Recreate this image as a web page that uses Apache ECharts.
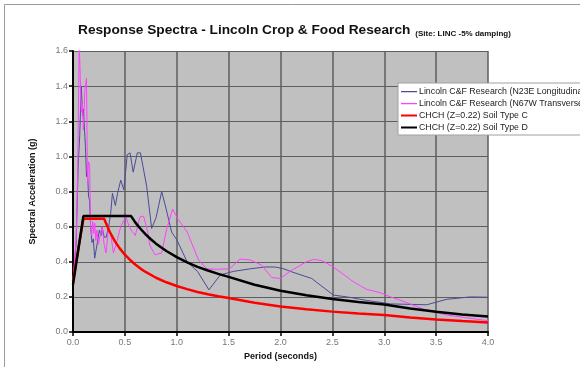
<!DOCTYPE html>
<html>
<head>
<meta charset="utf-8">
<script src="https://cdn.jsdelivr.net/npm/echarts@6/dist/echarts.min.js"></script>
<style>
  html, body { margin: 0; padding: 0; background: #fff; }
  #chart { width: 580px; height: 367px; }
</style>
</head>
<body>
<div id="chart"></div>
<script>
// tick labels
const periodTicks = [0, 0.5, 1.0, 1.5, 2.0, 2.5, 3.0, 3.5, 4.0];
const accelTicks = [0, 0.2, 0.4, 0.6, 0.8, 1.0, 1.2, 1.4, 1.6];

const seriesNames = [
  "Lincoln C&F Research (N23E Longitudinal)",
  "Lincoln C&F Research (N67W Transverse)",
  "CHCH (Z=0.22) Soil Type C",
  "CHCH (Z=0.22) Soil Type D"
];

// N23E record
const periodN23E = [0, 0.03, 0.05, 0.065, 0.08, 0.093, 0.10, 0.12, 0.13, 0.14, 0.15, 0.16, 0.17, 0.183, 0.196, 0.209, 0.22, 0.235, 0.254, 0.27, 0.28, 0.30, 0.32, 0.344, 0.363, 0.38, 0.408, 0.43, 0.46, 0.49, 0.523, 0.55, 0.58, 0.62, 0.65, 0.71, 0.758, 0.80, 0.855, 0.90, 0.95, 1.0, 1.10, 1.20, 1.31, 1.42, 1.545, 1.71, 1.85, 1.95, 2.03, 2.12, 2.30, 2.51, 2.64, 2.83, 3.06, 3.41, 3.6, 3.83, 4.0];
const accelN23E = [0.29, 0.5, 0.95, 1.12, 1.40, 1.23, 1.27, 1.055, 0.885, 0.91, 0.77, 0.75, 0.60, 0.51, 0.53, 0.42, 0.43, 0.51, 0.58, 0.55, 0.60, 0.54, 0.54, 0.60, 0.675, 0.79, 0.72, 0.79, 0.865, 0.81, 1.01, 1.02, 0.91, 1.02, 1.02, 0.83, 0.59, 0.65, 0.80, 0.695, 0.57, 0.525, 0.40, 0.345, 0.24, 0.325, 0.345, 0.36, 0.37, 0.37, 0.36, 0.34, 0.305, 0.21, 0.20, 0.18, 0.16, 0.155, 0.186, 0.20, 0.198];

// N67W record
const periodN67W = [0, 0.03, 0.045, 0.06, 0.07, 0.08, 0.09, 0.10, 0.115, 0.13, 0.14, 0.15, 0.16, 0.17, 0.18, 0.19, 0.20, 0.21, 0.22, 0.23, 0.245, 0.26, 0.28, 0.30, 0.318, 0.344, 0.37, 0.39, 0.425, 0.46, 0.485, 0.51, 0.53, 0.56, 0.60, 0.646, 0.68, 0.72, 0.74, 0.79, 0.855, 0.90, 0.96, 1.015, 1.10, 1.21, 1.29, 1.385, 1.51, 1.61, 1.71, 1.82, 1.915, 2.0, 2.09, 2.25, 2.32, 2.40, 2.51, 2.70, 2.83, 2.96, 3.06, 3.15, 3.38, 3.6, 3.83, 4.0];
const accelN67W = [0.29, 0.53, 0.9, 1.65, 1.45, 1.25, 1.3, 1.15, 1.38, 1.445, 0.85, 0.97, 0.95, 0.6, 0.55, 0.63, 0.56, 0.62, 0.52, 0.58, 0.5, 0.51, 0.6, 0.5, 0.45, 0.6, 0.53, 0.45, 0.52, 0.60, 0.63, 0.655, 0.62, 0.58, 0.55, 0.655, 0.66, 0.57, 0.495, 0.44, 0.45, 0.58, 0.70, 0.64, 0.57, 0.41, 0.36, 0.357, 0.36, 0.415, 0.41, 0.38, 0.31, 0.305, 0.345, 0.40, 0.414, 0.406, 0.37, 0.287, 0.243, 0.224, 0.20, 0.182, 0.13, 0.097, 0.078, 0.064];

// design spectra
const periodSoilC = [0, 0.1, 0.3, 0.35, 0.4, 0.45, 0.5, 0.55, 0.6, 0.65, 0.7, 0.8, 0.9, 1.0, 1.1, 1.2, 1.3, 1.4, 1.5, 1.75, 2.0, 2.25, 2.5, 2.75, 3.0, 3.25, 3.5, 3.75, 4.0];
const accelSoilC = [0.29, 0.645, 0.645, 0.575, 0.52, 0.476, 0.44, 0.41, 0.384, 0.361, 0.342, 0.309, 0.283, 0.262, 0.244, 0.228, 0.215, 0.203, 0.193, 0.166, 0.145, 0.129, 0.116, 0.106, 0.097, 0.0825, 0.071, 0.062, 0.054];

const periodSoilD = [0, 0.1, 0.56, 0.6, 0.65, 0.7, 0.75, 0.8, 0.9, 1.0, 1.1, 1.2, 1.3, 1.4, 1.5, 1.75, 2.0, 2.25, 2.5, 2.75, 3.0, 3.25, 3.5, 3.75, 4.0];
const accelSoilD = [0.27, 0.66, 0.66, 0.624, 0.588, 0.556, 0.528, 0.503, 0.461, 0.426, 0.396, 0.371, 0.35, 0.331, 0.314, 0.269, 0.235, 0.209, 0.188, 0.171, 0.157, 0.134, 0.115, 0.1, 0.088];

const zip = (xs, ys) => xs.map((x, i) => [x, ys[i]]);

// legend swatches: plain line segments (tiny corner dots keep the box size)
const thinIcon = "path://M0 0h0.05v0.05h-0.05z M0 4.4h20v1.5h-20z M19.95 9.95h0.05v0.05h-0.05z";
const thickIcon = "path://M0 0h0.05v0.05h-0.05z M0 3.6h20v2.8h-20z M19.95 9.95h0.05v0.05h-0.05z";

const chart = echarts.init(document.getElementById("chart"));

const option = {
  animation: false,
  backgroundColor: "#ffffff",
  textStyle: { fontFamily: "Liberation Sans, Arial, sans-serif" },
  graphic: [
    {
      // outer frame of the chart sheet
      type: "rect",
      shape: { x: 4.5, y: 4.5, width: 600, height: 400 },
      style: { fill: "none", stroke: "#9a9a9a", lineWidth: 1 },
      silent: true
    }
  ],
  title: {
    left: 73,
    top: 16,
    text: "{a|Response Spectra - Lincoln Crop & Food Research} {b|(Site: LINC -5% damping)}",
    textStyle: {
      rich: {
        a: { fontSize: 13.7, fontWeight: "bold", color: "#111", fontFamily: "Liberation Sans, Arial" },
        b: { fontSize: 8, fontWeight: "bold", color: "#111", fontFamily: "Liberation Sans, Arial", verticalAlign: "bottom", padding: [0, 0, 1, 0] }
      }
    }
  },
  legend: {
    orient: "vertical",
    left: 398,
    top: 83,
    padding: [4, 10, 3, 3],
    itemGap: 3,
    itemWidth: 16,
    itemHeight: 9,
    backgroundColor: "#ffffff",
    borderColor: "#a0a0a0",
    borderWidth: 1,
    textStyle: { fontSize: 8.8, color: "#222", padding: [0, 0, 0, -3] },
    data: [
      { name: seriesNames[0], icon: thinIcon },
      { name: seriesNames[1], icon: thinIcon },
      { name: seriesNames[2], icon: thickIcon },
      { name: seriesNames[3], icon: thickIcon }
    ]
  },
  grid: {
    left: 73,
    right: 92,
    top: 51,
    bottom: 35,
    show: true,
    backgroundColor: "#c0c0c0",
    borderWidth: 0
  },
  xAxis: {
    type: "value",
    min: 0,
    max: 4,
    interval: 0.5,
    name: "Period (seconds)",
    nameLocation: "middle",
    nameGap: 18,
    nameTextStyle: { fontSize: 9, fontWeight: "bold", color: "#111" },
    axisLine: { show: true, onZero: false, lineStyle: { color: "#000", width: 2 } },
    axisTick: { show: true, length: 4, lineStyle: { color: "#000", width: 1.5 } },
    axisLabel: {
      fontSize: 9,
      color: "#777",
      margin: 6,
      formatter: (v) => periodTicks.includes(v) ? v.toFixed(1) : ""
    },
    splitLine: { show: true, lineStyle: { color: "#5e5e5e", width: 1.5 } }
  },
  yAxis: {
    type: "value",
    min: 0,
    max: 1.6,
    interval: 0.2,
    name: "Spectral Acceleration (g)",
    nameLocation: "middle",
    nameGap: 36,
    nameTextStyle: { fontSize: 9, fontWeight: "bold", color: "#111" },
    axisLine: { show: true, onZero: false, lineStyle: { color: "#000", width: 2 } },
    axisTick: { show: true, length: 4, lineStyle: { color: "#000", width: 1.5 } },
    axisLabel: {
      fontSize: 9,
      color: "#777",
      margin: 5,
      formatter: (v) => accelTicks.some((t) => Math.abs(t - v) < 1e-6) ? v.toFixed(1) : ""
    },
    splitLine: { show: true, lineStyle: { color: "#5e5e5e", width: 1.2 } }
  },
  series: [
    {
      name: seriesNames[0],
      type: "line",
      data: zip(periodN23E, accelN23E),
      symbol: "none",
      lineStyle: { color: "#4b4b9a", width: 1 },
      itemStyle: { color: "#4b4b9a" },
      z: 3
    },
    {
      name: seriesNames[1],
      type: "line",
      data: zip(periodN67W, accelN67W),
      symbol: "none",
      lineStyle: { color: "#ff40ff", width: 1 },
      itemStyle: { color: "#ff40ff" },
      z: 4
    },
    {
      name: seriesNames[2],
      type: "line",
      data: zip(periodSoilC, accelSoilC),
      symbol: "none",
      lineStyle: { color: "#ff0000", width: 2.5 },
      itemStyle: { color: "#ff0000" },
      z: 5
    },
    {
      name: seriesNames[3],
      type: "line",
      data: zip(periodSoilD, accelSoilD),
      symbol: "none",
      lineStyle: { color: "#000000", width: 2.5 },
      itemStyle: { color: "#000000" },
      z: 6
    }
  ]
};

chart.setOption(option);
window.addEventListener("resize", () => chart.resize());
</script>
</body>
</html>
